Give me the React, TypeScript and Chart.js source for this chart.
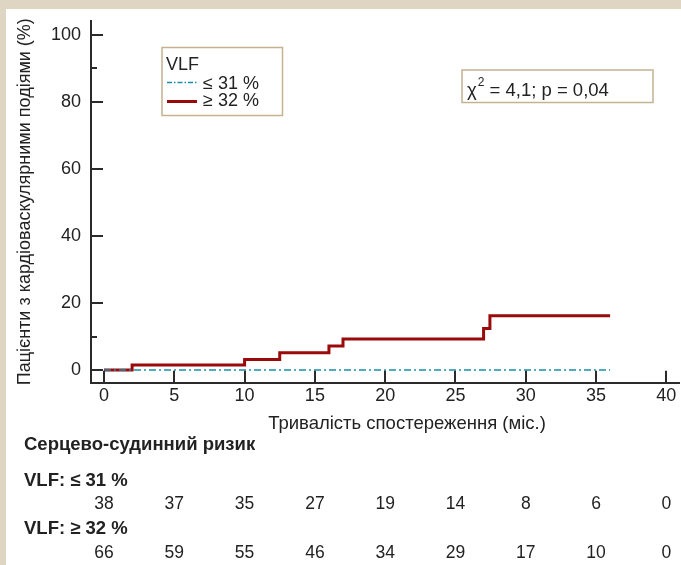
import React, { useEffect, useRef } from 'react';
import { Chart, registerables } from 'chart.js';

Chart.register(...registerables);

// ---- data ----
const months = [0, 5, 10, 15, 20, 25, 30, 35, 40];
const yMajorTicks = [0, 20, 40, 60, 80, 100];
const yMinorTicks = [10, 90];
const lowTimes = [0, 36];
const lowValues = [0, 0];
const highTimes = [0, 2, 10, 12.5, 16, 17, 27, 27.45, 36];
const highValues = [0, 1.5, 3.2, 5.2, 7.2, 9.3, 12.4, 16.2, 16.2];
const atRiskLow = [38, 37, 35, 27, 19, 14, 8, 6, 0];
const atRiskHigh = [66, 59, 55, 46, 34, 29, 17, 10, 0];

const yTitle = 'Пацієнти з кардіоваскулярними подіями (%)';
const xTitle = 'Тривалість спостереження (міс.)';
const legendTitle = 'VLF';
const lowLabel = '≤ 31 %';
const highLabel = '≥ 32 %';
const tableTitle = 'Серцево-судинний ризик';
const lowRowLabel = 'VLF: ≤ 31 %';
const highRowLabel = 'VLF: ≥ 32 %';

const FONT = '"Liberation Sans", Arial, Helvetica, sans-serif';
const TEXT = '#222';
const AXIS = '#2a2a2a';
const RED = '#990a0a';
const BLUE = '#1a8ea8';
const BOXC = '#c4b291';

export default function App() {
  const ref = useRef<HTMLCanvasElement>(null);

  useEffect(() => {
    if (!ref.current) return;

    const custom = {
      id: 'custom',
      beforeDraw(chart: any) {
        const ctx = chart.ctx;
        ctx.save();
        ctx.fillStyle = '#ded5c2';
        ctx.fillRect(0, 0, chart.width, chart.height);
        ctx.fillStyle = '#ffffff';
        ctx.fillRect(6, 9, chart.width - 6, chart.height - 9);
        ctx.restore();
      },
      afterDraw(chart: any) {
        const ctx = chart.ctx;
        const xs = chart.scales.x;
        const ys = chart.scales.y;
        const axX = chart.chartArea.left;
        const axY = chart.chartArea.bottom;
        ctx.save();
        // inward tick marks
        ctx.strokeStyle = AXIS;
        ctx.lineWidth = 2;
        ctx.beginPath();
        yMajorTicks.forEach((v) => {
          const p = Math.round(ys.getPixelForValue(v));
          ctx.moveTo(axX, p);
          ctx.lineTo(axX + 12, p);
        });
        yMinorTicks.forEach((v) => {
          const p = Math.round(ys.getPixelForValue(v));
          ctx.moveTo(axX, p);
          ctx.lineTo(axX + 6, p);
        });
        months.forEach((v) => {
          const p = Math.round(xs.getPixelForValue(v));
          ctx.moveTo(p, axY);
          ctx.lineTo(p, axY - 12);
        });
        ctx.stroke();

        // legend box
        ctx.strokeStyle = BOXC;
        ctx.lineWidth = 1.5;
        ctx.strokeRect(162, 47.5, 120.5, 68);
        ctx.fillStyle = TEXT;
        ctx.font = `18px ${FONT}`;
        ctx.textAlign = 'left';
        ctx.textBaseline = 'alphabetic';
        ctx.fillText(legendTitle, 166, 69.5);
        ctx.fillText(lowLabel, 203, 88.5);
        ctx.fillText(highLabel, 203, 105.5);
        ctx.strokeStyle = BLUE;
        ctx.lineWidth = 1.5;
        ctx.setLineDash([5, 2, 1.5, 2]);
        ctx.beginPath();
        ctx.moveTo(167, 82.5);
        ctx.lineTo(197, 82.5);
        ctx.stroke();
        ctx.setLineDash([]);
        ctx.strokeStyle = RED;
        ctx.lineWidth = 3;
        ctx.beginPath();
        ctx.moveTo(167, 101.5);
        ctx.lineTo(197, 101.5);
        ctx.stroke();

        // chi-square box
        ctx.strokeStyle = BOXC;
        ctx.lineWidth = 1.5;
        ctx.strokeRect(462, 70, 191, 32.5);
        ctx.fillStyle = TEXT;
        ctx.font = `18.5px ${FONT}`;
        ctx.fillText('χ', 467, 95.5);
        const chiW = ctx.measureText('χ').width;
        ctx.font = `12px ${FONT}`;
        ctx.fillText('2', 467 + chiW + 1, 86);
        const supW = ctx.measureText('2').width;
        ctx.font = `18.5px ${FONT}`;
        ctx.fillText(' = 4,1; p = 0,04', 467 + chiW + 1 + supW, 95.5);

        // x title
        ctx.textAlign = 'center';
        ctx.font = `18.5px ${FONT}`;
        ctx.fillText(xTitle, 407, 429);

        // at-risk table
        ctx.textAlign = 'left';
        ctx.font = `bold 18.5px ${FONT}`;
        ctx.fillText(tableTitle, 24, 450);
        ctx.fillText(lowRowLabel, 24, 486);
        ctx.fillText(highRowLabel, 24, 534);
        ctx.font = `17.5px ${FONT}`;
        ctx.textAlign = 'center';
        months.forEach((m, i) => {
          const px = xs.getPixelForValue(m);
          ctx.fillText(String(atRiskLow[i]), px, 509);
          ctx.fillText(String(atRiskHigh[i]), px, 558);
        });
        ctx.restore();
      },
    };

    const chart = new Chart(ref.current, {
      type: 'line',
      data: {
        datasets: [
          {
            label: lowLabel,
            data: lowTimes.map((t, i) => ({ x: t, y: lowValues[i] })),
            borderColor: BLUE,
            borderWidth: 1.5,
            borderDash: [7, 3, 2, 3],
            pointRadius: 0,
            fill: false,
          },
          {
            label: highLabel,
            data: highTimes.map((t, i) => ({ x: t, y: highValues[i] })),
            borderColor: RED,
            borderWidth: 3,
            stepped: 'before',
            pointRadius: 0,
            fill: false,
          },
        ],
      },
      options: {
        responsive: false,
        animation: false,
        devicePixelRatio: 1,
        layout: { padding: { left: 10, top: 17.5, right: 2, bottom: 142.3 } },
        plugins: { legend: { display: false }, tooltip: { enabled: false } },
        scales: {
          x: {
            type: 'linear',
            min: -0.925,
            max: 40.9,
            ticks: {
              stepSize: 5,
              includeBounds: false,
              autoSkip: false,
              maxRotation: 0,
              padding: 3,
              color: TEXT,
              font: { family: FONT, size: 18 },
            },
            grid: { drawOnChartArea: false, drawTicks: false },
            border: { display: true, color: AXIS, width: 2 },
            afterFit: (s: any) => {
              s.height = 40;
            },
          },
          y: {
            type: 'linear',
            min: -3.75,
            max: 104.1,
            ticks: {
              stepSize: 20,
              includeBounds: false,
              padding: 10,
              color: TEXT,
              font: { family: FONT, size: 18 },
            },
            grid: { drawOnChartArea: false, drawTicks: false },
            border: { display: true, color: AXIS, width: 2 },
            title: {
              display: true,
              text: yTitle,
              color: TEXT,
              font: { family: FONT, size: 18 },
              padding: { top: 4.5, bottom: 0 },
            },
            afterFit: (s: any) => {
              s.width = 81;
            },
          },
        },
      },
      plugins: [custom],
    });
    return () => chart.destroy();
  }, []);

  return (
    <div style={{ position: 'absolute', left: 0, top: 0, width: 681, height: 565 }}>
      <canvas ref={ref} width={681} height={565} style={{ display: 'block' }} />
    </div>
  );
}
